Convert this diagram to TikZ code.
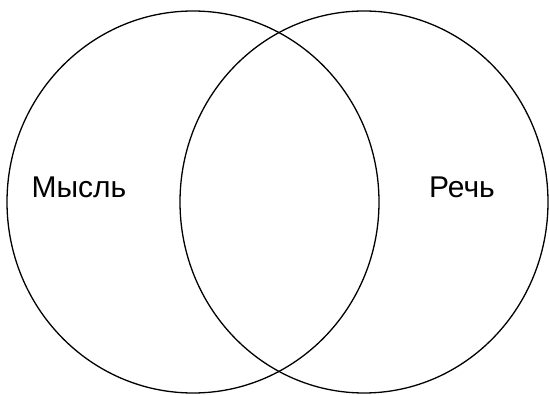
\documentclass[tikz,border=0pt]{standalone}
\usepackage{fontspec}
\setmainfont{Liberation Sans}

\begin{document}
\begin{tikzpicture}[x=1pt, y=-1pt, line width=1.3pt, font=\fontsize{30}{36}\selectfont]
  \useasboundingbox (0,0) rectangle (549,395);

  % два круга, пересечение посередине
  \draw (193,202) ellipse [x radius=186, y radius=191];
  \draw (364,202) ellipse [x radius=184, y radius=191];

  \node (mysl) at (79,187) {Мысль};
  \node (rech) at (462,187) {Речь};
\end{tikzpicture}
\end{document}
